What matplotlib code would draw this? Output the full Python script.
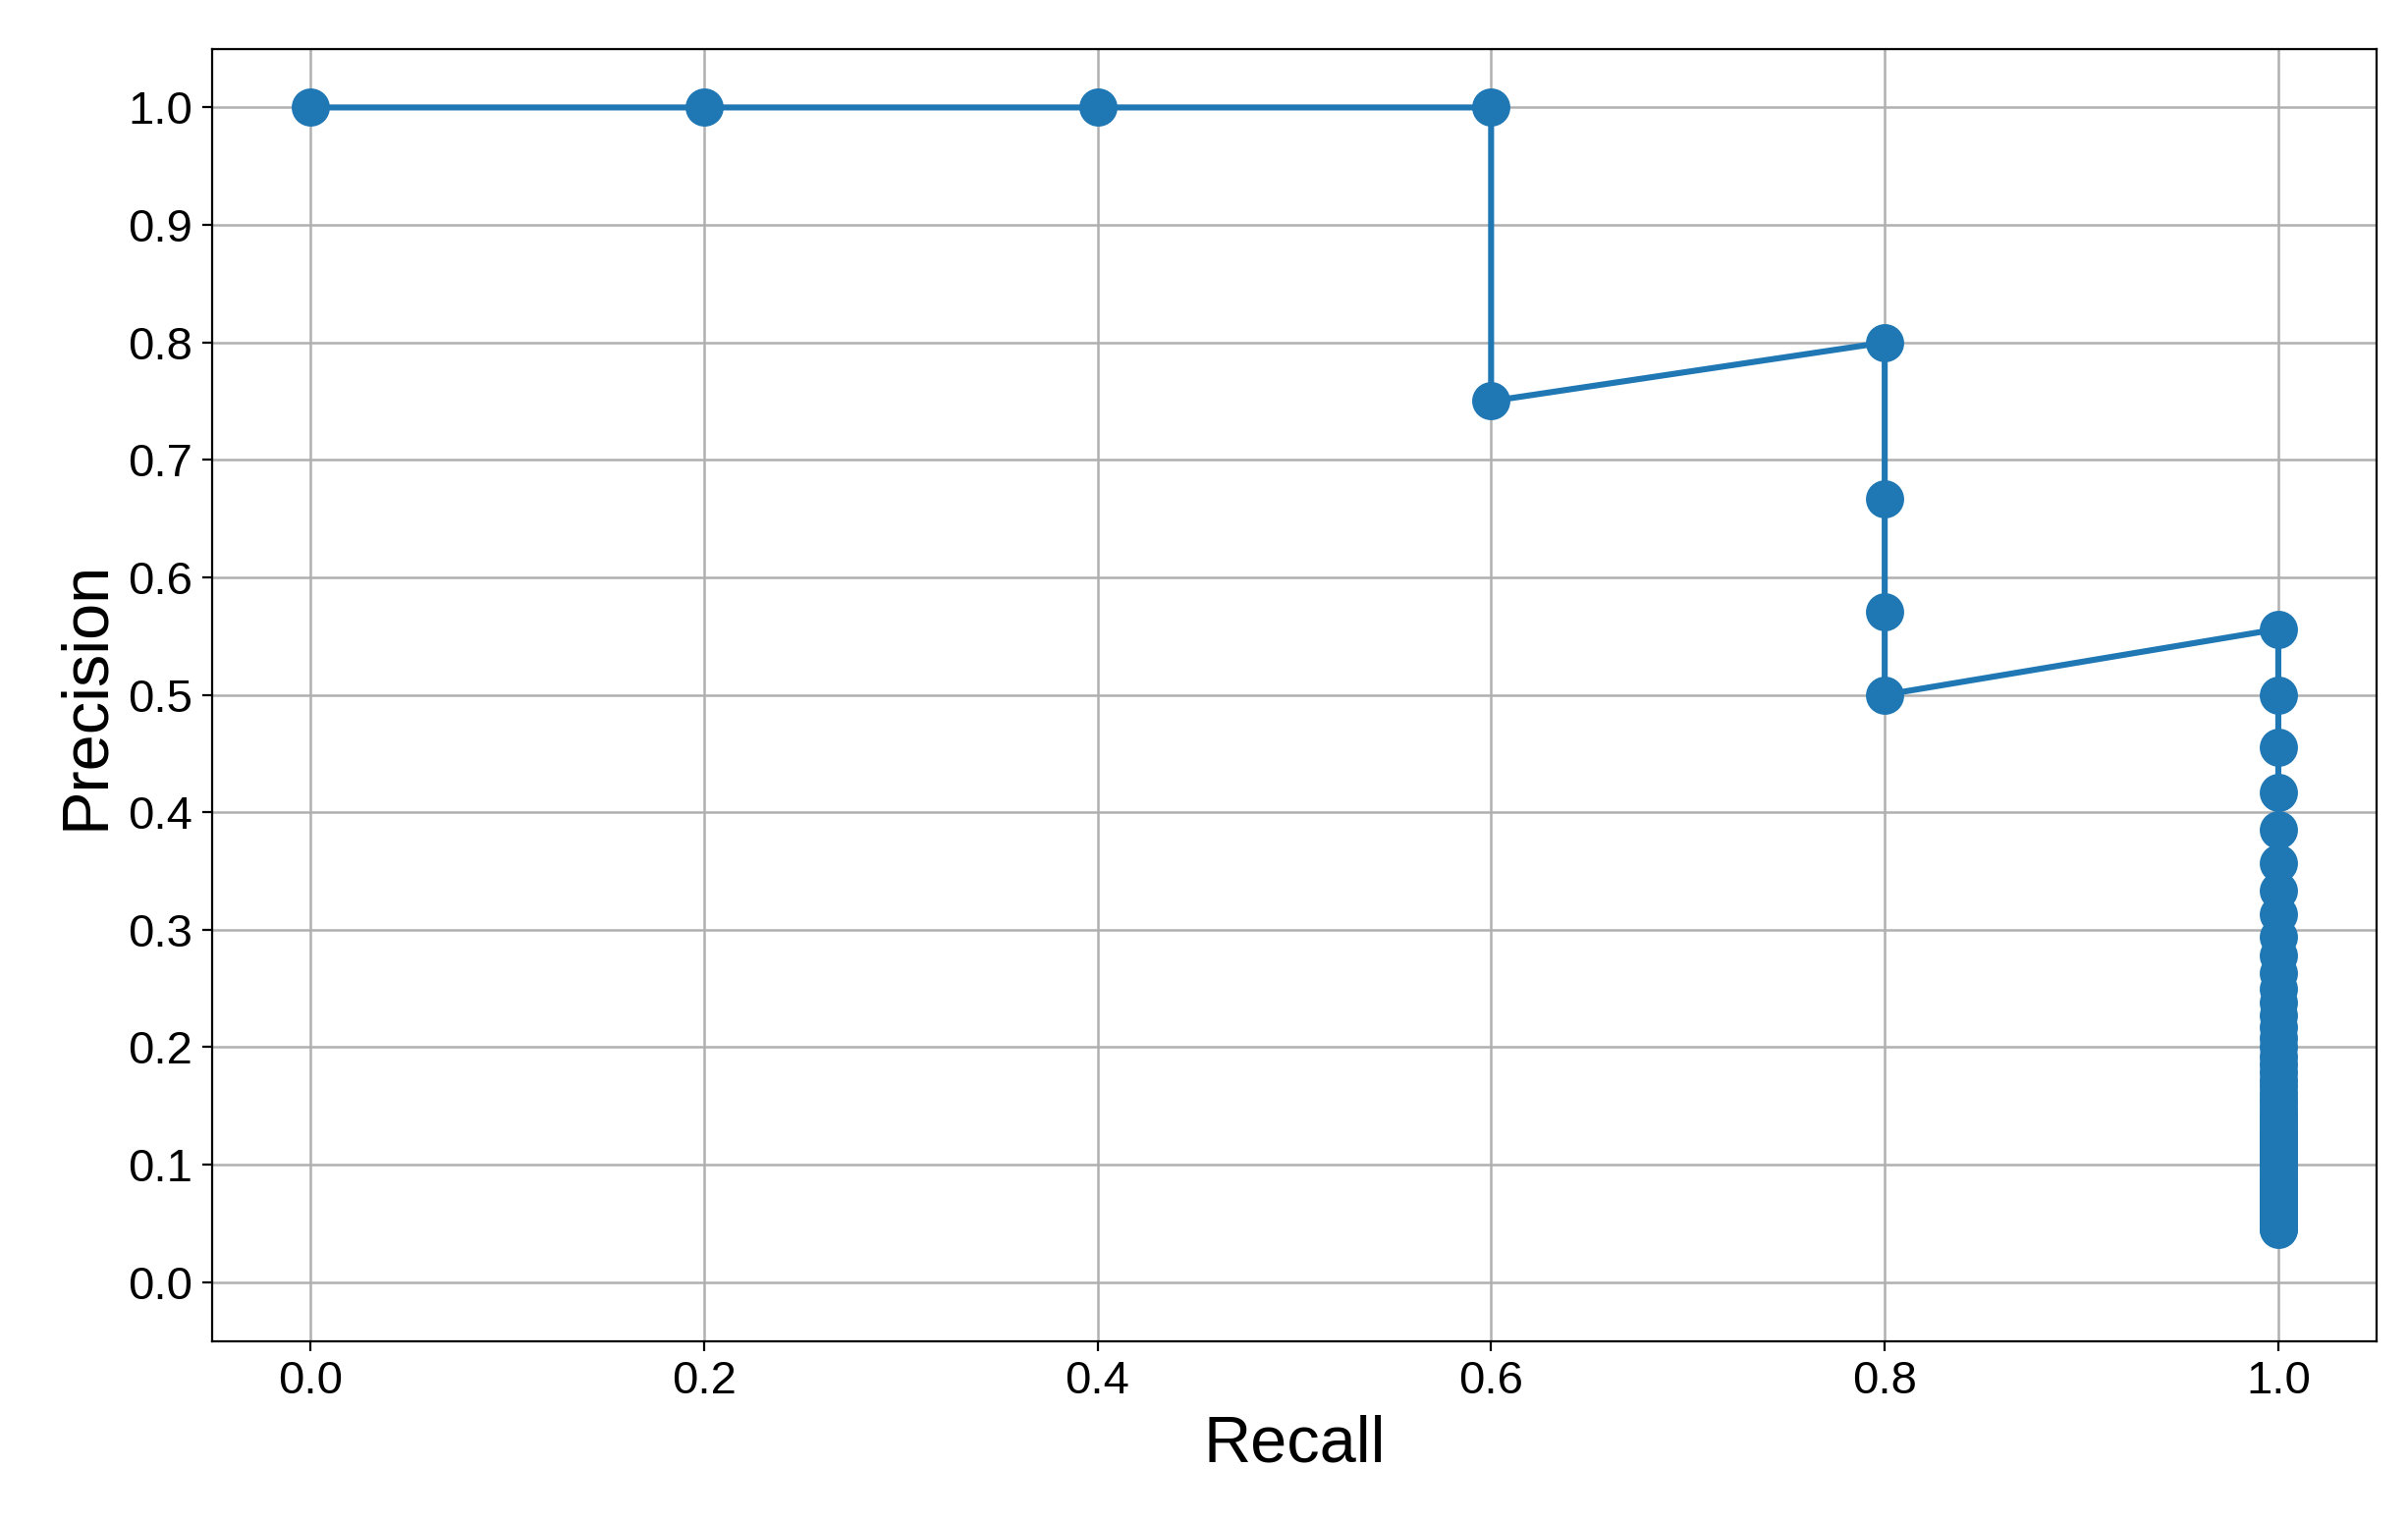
import matplotlib
matplotlib.use("Agg")
import matplotlib.pyplot as plt

plt.rcParams['font.family'] = ['Liberation Sans', 'DejaVu Sans']

precision_tail = [0.556, 0.5, 0.455, 0.417, 0.385, 0.357, 0.333, 0.313, 0.294,
                  0.278, 0.263, 0.25, 0.238, 0.227, 0.217, 0.208, 0.2, 0.192,
                  0.185, 0.179, 0.172, 0.167, 0.161, 0.156, 0.152, 0.147,
                  0.143, 0.139, 0.135, 0.132, 0.128, 0.125, 0.122, 0.119,
                  0.116, 0.114, 0.111, 0.109, 0.106, 0.104, 0.102, 0.1,
                  0.096, 0.093, 0.089, 0.086, 0.083, 0.081, 0.078, 0.076,
                  0.074, 0.071, 0.069, 0.068, 0.066, 0.064, 0.062, 0.061,
                  0.059, 0.058, 0.056, 0.055, 0.054, 0.053, 0.051, 0.05,
                  0.049, 0.048, 0.047, 0.046, 0.045]
recall = [0.0, 0.2, 0.4, 0.6, 0.6, 0.8, 0.8, 0.8, 0.8] + [1.0] * len(precision_tail)
precision = [1.0, 1.0, 1.0, 1.0, 0.75, 0.8, 0.667, 0.571, 0.5] + precision_tail
xticks = [0.0, 0.2, 0.4, 0.6, 0.8, 1.0]
yticks = [0.0, 0.1, 0.2, 0.3, 0.4, 0.5, 0.6, 0.7, 0.8, 0.9, 1.0]

fig = plt.figure(figsize=(12.26, 7.75), dpi=200)
ax = fig.add_axes([0.088, 0.119, 0.899, 0.849])
ax.plot(recall, precision, color='#1f77b4', marker='o', markersize=13, linewidth=2.2)
ax.set_xlim(-0.05, 1.05)
ax.set_ylim(-0.05, 1.05)
ax.set_xticks(xticks)
ax.set_yticks(yticks)
ax.grid(True, color='#b0b0b0', linewidth=0.9)
ax.tick_params(labelsize=17)
ax.set_xlabel('Recall', fontsize=24, labelpad=4)
ax.set_ylabel('Precision', fontsize=24, labelpad=4)
fig.savefig('out.png', dpi=200)
